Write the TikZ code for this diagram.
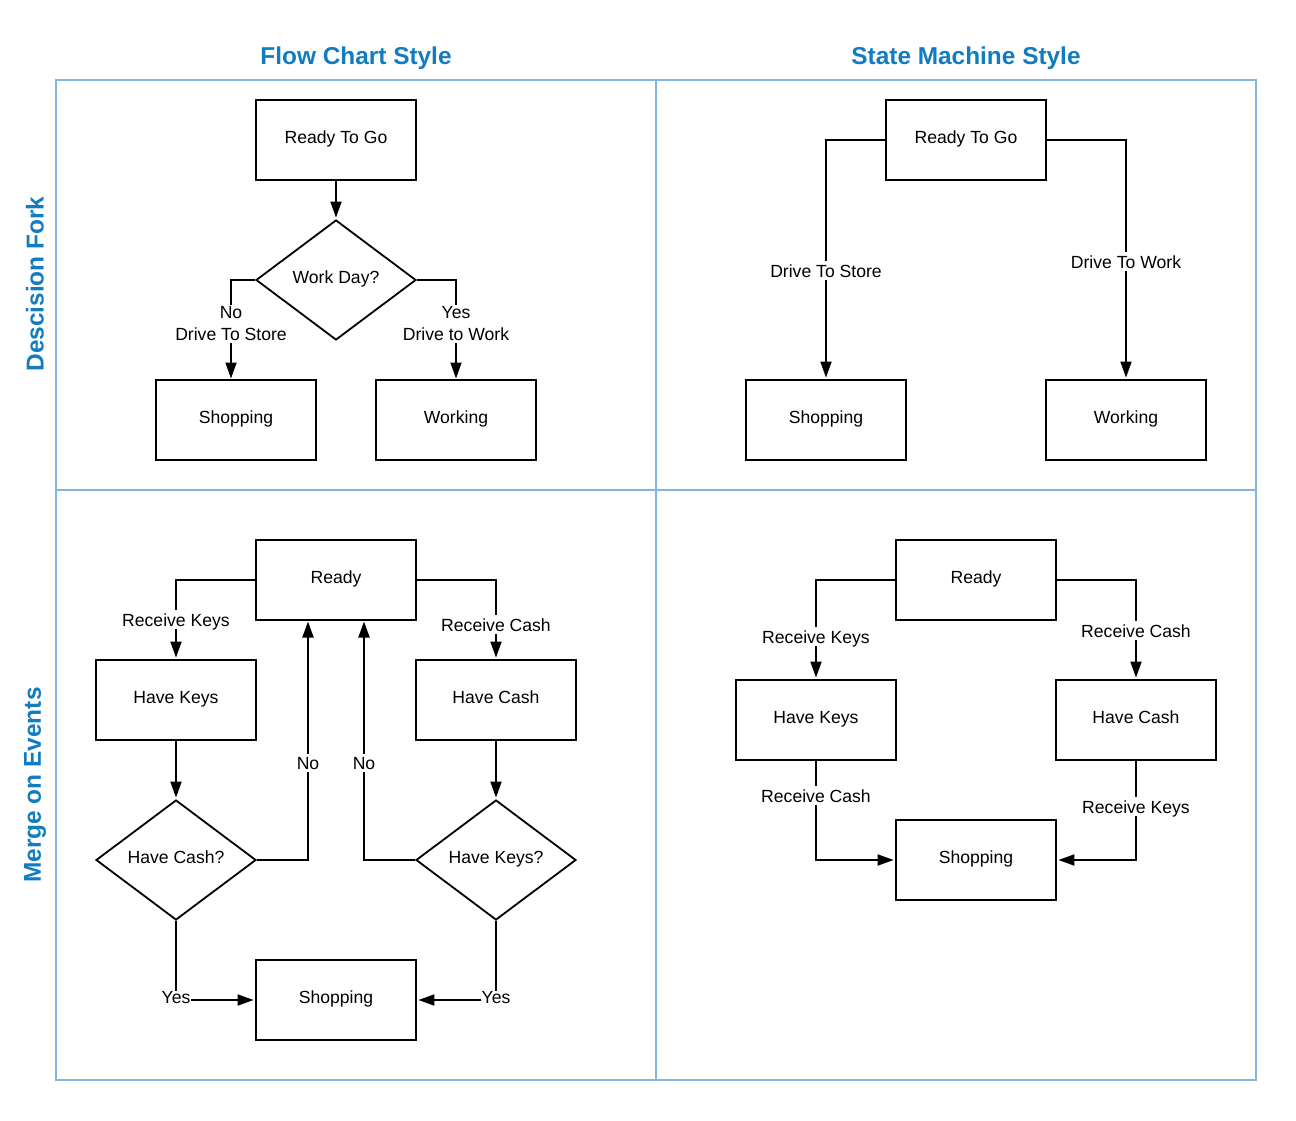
\documentclass[tikz,border=0pt]{standalone}
\usepackage{fontspec}
\setmainfont{Liberation Sans}
\usetikzlibrary{arrows.meta,shapes.geometric}
\definecolor{gridblue}{RGB}{132,180,226}
\definecolor{titleblue}{RGB}{18,124,192}
\begin{document}
\begin{tikzpicture}[x=1pt,y=-1pt,
  every node/.style={font=\fontsize{17.6}{22}\selectfont},
  fixed/.style={text height=12pt, text depth=4.3pt},
  lfixed/.style={text height=14.5pt, text depth=1pt},
  box/.style={draw, fixed, line width=1.8pt, minimum width=160pt, minimum height=80pt, inner sep=0pt},
  dia/.style={draw, fixed, diamond, line width=1.8pt, minimum width=160pt, minimum height=120pt, inner sep=0pt, aspect=1.333},
  arr/.style={line width=1.8pt, -{Triangle[length=16pt,width=11pt]}, shorten >=1.5pt},
  lbl/.style={fill=white, inner sep=1.5pt, align=center},
  ttl/.style={text=titleblue, font=\fontsize{24.4}{28}\selectfont\bfseries},
  grid/.style={draw=gridblue, line width=2pt}
]
\useasboundingbox (0,0) rectangle (1296,1121);
% grid
\draw[grid] (56,80) rectangle (1256,1080);
\draw[grid] (656,80) -- (656,1080);
\draw[grid] (56,490) -- (1256,490);
% titles
\node[ttl] (t1) at (356,58.5) {Flow Chart Style};
\node[ttl] (t2) at (966,58.5) {State Machine Style};
\node[ttl, rotate=90] (s1) at (35,284) {Descision Fork};
\node[ttl, rotate=90] (s2) at (35,785) {Merge on Events};

% top-left
\node[box] (a1) at (336,140) {Ready To Go};
\node[dia] (a2) at (336,280) {Work Day?};
\node[box] (a3) at (236,420) {Shopping};
\node[box] (a4) at (456,420) {Working};
\coordinate (a3t) at (231,380);
\coordinate (a4t) at (456,380);
\draw[arr] (a1.south) -- (a2.north);
\draw[arr] (a2.west) -| node[lbl, pos=0.72] (l1) {No\\Drive To Store} (a3t);
\draw[arr] (a2.east) -| node[lbl, pos=0.72] (l2) {Yes\\Drive to Work} (a4t);

% top-right
\node[box] (b1) at (966,140) {Ready To Go};
\node[box] (b2) at (826,420) {Shopping};
\node[box] (b3) at (1126,420) {Working};
\draw[arr] (b1.west) -| node[lbl, lfixed, pos=0.773] (l3) {Drive To Store} (b2.north);
\draw[arr] (b1.east) -| node[lbl, lfixed, pos=0.754] (l4) {Drive To Work} (b3.north);

% bottom-left
\node[box] (c1) at (336,580) {Ready};
\node[box] (c2) at (176,700) {Have Keys};
\node[box] (c3) at (496,700) {Have Cash};
\node[dia] (c4) at (176,860) {Have Cash?};
\node[dia] (c5) at (496,860) {Have Keys?};
\node[box] (c6) at (336,1000) {Shopping};
\coordinate (c1a) at (308,620);
\coordinate (c1b) at (364,620);
\draw[arr] (c1.west) -| node[lbl, lfixed, pos=0.75] (l5) {Receive Keys} (c2.north);
\draw[arr] (c1.east) -| node[lbl, lfixed, pos=0.781] (l6) {Receive Cash} (c3.north);
\draw[arr] (c2.south) -- (c4.north);
\draw[arr] (c3.south) -- (c5.north);
\draw[arr] (c4.east) -| node[lbl, lfixed, pos=0.702] (l7) {No} (c1a);
\draw[arr] (c5.west) -| node[lbl, lfixed, pos=0.702] (l8) {No} (c1b);
\draw[arr] (c4.south) |- node[lbl, fixed, pos=0.5, inner sep=0.5pt] (l9) {Yes} (c6.west);
\draw[arr] (c5.south) |- node[lbl, fixed, pos=0.5, inner sep=0.5pt] (l10) {Yes} (c6.east);

% bottom-right
\node[box] (d1) at (976,580) {Ready};
\node[box] (d2) at (816,720) {Have Keys};
\node[box] (d3) at (1136,720) {Have Cash};
\node[box] (d4) at (976,860) {Shopping};
\draw[arr] (d1.west) -| node[lbl, lfixed, pos=0.785] (l11) {Receive Keys} (d2.north);
\draw[arr] (d1.east) -| node[lbl, lfixed, pos=0.755] (l12) {Receive Cash} (d3.north);
\draw[arr] (d2.south) |- node[lbl, lfixed, pos=0.175] (l13) {Receive Cash} (d4.west);
\draw[arr] (d3.south) |- node[lbl, lfixed, pos=0.23] (l14) {Receive Keys} (d4.east);
\end{tikzpicture}
\end{document}
